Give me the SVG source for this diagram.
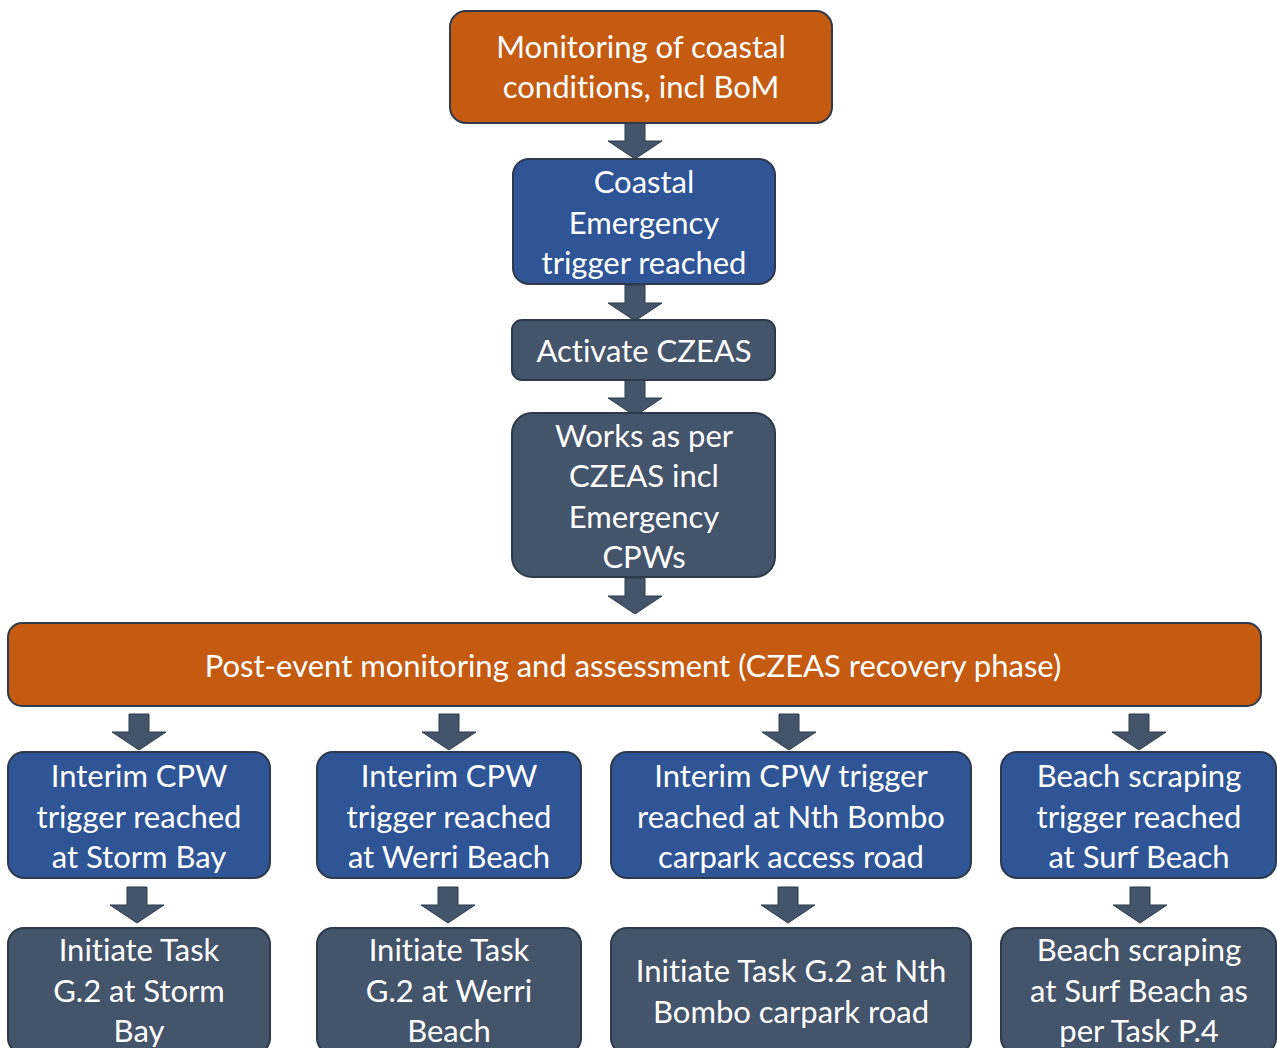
<svg xmlns="http://www.w3.org/2000/svg" width="1277" height="1048" viewBox="0 0 1277 1048">
  <style>
    .box { stroke: #2E3A4B; stroke-width: 2; }
    .orange { fill: #C55A11; }
    .blue { fill: #2F5597; }
    .slate { fill: #44546A; }
    .arrow { fill: #44546A; stroke: #2E3A4B; stroke-width: 1; }
    text { font-family: Lato, "Open Sans", "Liberation Sans", sans-serif; font-size: 31px; font-variant-ligatures: none; fill: #FFFFFF; text-anchor: middle; dominant-baseline: central; }
  </style>
  <defs>
    <!-- block arrow pointing down, origin at top centre of the shaft -->
    <path id="down" d="M-10,0 H10 V18 H27 L0,36 L-27,18 H-10 Z"/>
  </defs>
  <rect width="1277" height="1048" fill="#FFFFFF"/>

  <g id="connectors">
    <use href="#down" class="arrow" x="635" y="123"/>
    <use href="#down" class="arrow" x="635" y="285"/>
    <use href="#down" class="arrow" x="635" y="380"/>
    <use href="#down" class="arrow" x="635" y="578"/>
    <use href="#down" class="arrow" x="139" y="714"/>
    <use href="#down" class="arrow" x="449" y="714"/>
    <use href="#down" class="arrow" x="789" y="714"/>
    <use href="#down" class="arrow" x="1139" y="714"/>
    <use href="#down" class="arrow" x="137" y="887"/>
    <use href="#down" class="arrow" x="448" y="887"/>
    <use href="#down" class="arrow" x="788" y="887"/>
    <use href="#down" class="arrow" x="1140" y="887"/>
  </g>

  <g id="monitoring">
    <rect class="box orange" x="450" y="11" width="382" height="112" rx="16"/>
    <text x="641" y="46">Monitoring of coastal</text>
    <text x="641" y="86">conditions, incl BoM</text>
  </g>

  <g id="trigger">
    <rect class="box blue" x="513" y="159" width="262" height="125" rx="16"/>
    <text x="644" y="181">Coastal</text>
    <text x="644" y="222">Emergency</text>
    <text x="644" y="262">trigger reached</text>
  </g>

  <g id="activate">
    <rect class="box slate" x="512" y="320" width="263" height="60" rx="10"/>
    <text x="644" y="350">Activate CZEAS</text>
  </g>

  <g id="works">
    <rect class="box slate" x="512" y="413" width="263" height="164" rx="20"/>
    <text x="644" y="435">Works as per</text>
    <text x="644" y="475">CZEAS incl</text>
    <text x="644" y="516">Emergency</text>
    <text x="644" y="556">CPWs</text>
  </g>

  <g id="post-event">
    <rect class="box orange" x="8" y="623" width="1253" height="83" rx="14"/>
    <text x="633" y="665">Post-event monitoring and assessment (CZEAS recovery phase)</text>
  </g>

  <g id="storm-bay-trigger">
    <rect class="box blue" x="8" y="752" width="262" height="126" rx="16"/>
    <text x="139" y="775">Interim CPW</text>
    <text x="139" y="816">trigger reached</text>
    <text x="139" y="856">at Storm Bay</text>
  </g>

  <g id="werri-trigger">
    <rect class="box blue" x="317" y="752" width="264" height="126" rx="16"/>
    <text x="449" y="775">Interim CPW</text>
    <text x="449" y="816">trigger reached</text>
    <text x="449" y="856">at Werri Beach</text>
  </g>

  <g id="bombo-trigger">
    <rect class="box blue" x="611" y="752" width="360" height="126" rx="16"/>
    <text x="791" y="775">Interim CPW trigger</text>
    <text x="791" y="816">reached at Nth Bombo</text>
    <text x="791" y="856">carpark access road</text>
  </g>

  <g id="surf-trigger">
    <rect class="box blue" x="1001" y="752" width="275" height="126" rx="16"/>
    <text x="1139" y="775">Beach scraping</text>
    <text x="1139" y="816">trigger reached</text>
    <text x="1139" y="856">at Surf Beach</text>
  </g>

  <g id="storm-bay-task">
    <rect class="box slate" x="8" y="928" width="262" height="126" rx="16"/>
    <text x="139" y="949">Initiate Task</text>
    <text x="139" y="990">G.2 at Storm</text>
    <text x="139" y="1030">Bay</text>
  </g>

  <g id="werri-task">
    <rect class="box slate" x="317" y="928" width="264" height="126" rx="16"/>
    <text x="449" y="949">Initiate Task</text>
    <text x="449" y="990">G.2 at Werri</text>
    <text x="449" y="1030">Beach</text>
  </g>

  <g id="bombo-task">
    <rect class="box slate" x="611" y="928" width="360" height="126" rx="16"/>
    <text x="791" y="970">Initiate Task G.2 at Nth</text>
    <text x="791" y="1011">Bombo carpark road</text>
  </g>

  <g id="surf-task">
    <rect class="box slate" x="1001" y="928" width="275" height="126" rx="16"/>
    <text x="1139" y="949">Beach scraping</text>
    <text x="1139" y="990">at Surf Beach as</text>
    <text x="1139" y="1030">per Task P.4</text>
  </g>
</svg>
